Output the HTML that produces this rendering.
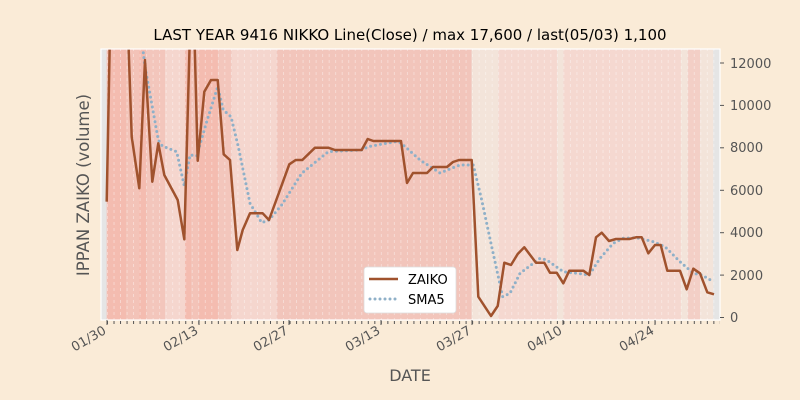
<!DOCTYPE html>
<html><head><meta charset="utf-8"><style>
html,body{margin:0;padding:0;background:#faebd7;}
svg{display:block;font-family:"DejaVu Sans","Liberation Sans",sans-serif;}
</style></head><body>
<svg width="800" height="400" viewBox="0 0 800 400" xmlns="http://www.w3.org/2000/svg">
<defs>
<pattern id="g" x="107" y="0" width="6.52" height="6" patternUnits="userSpaceOnUse">
<line x1="0.5" y1="0" x2="0.5" y2="3" stroke="#ffffff" stroke-opacity="0.45" stroke-width="0.8"/>
</pattern>
<clipPath id="c"><rect x="101" y="49" width="619" height="271"/></clipPath>
</defs>
<rect width="800" height="400" fill="#faebd7"/>
<text x="410" y="40" font-size="15" text-anchor="middle" fill="#000">LAST YEAR 9416 NIKKO Line(Close) / max 17,600 / last(05/03) 1,100</text>
<g>
<rect x="101" y="49" width="619" height="271" fill="#e5e5e5"/>
<rect x="106.7" y="49" width="20" height="271" fill="#f4bcb0"/>
<rect x="126.7" y="49" width="12.3" height="271" fill="#f3c3b8"/>
<rect x="139" y="49" width="7.7" height="271" fill="#f4bcb0"/>
<rect x="146.7" y="49" width="18.3" height="271" fill="#f3c6bc"/>
<rect x="165" y="49" width="20" height="271" fill="#f5d6ce"/>
<rect x="185" y="49" width="6.7" height="271" fill="#f4bcb0"/>
<rect x="191.7" y="49" width="6.6" height="271" fill="#f3c3b8"/>
<rect x="198.3" y="49" width="20" height="271" fill="#f4bcb0"/>
<rect x="218.3" y="49" width="13.4" height="271" fill="#f3c6bc"/>
<rect x="231.7" y="49" width="45" height="271" fill="#f5d6ce"/>
<rect x="276.7" y="49" width="195" height="271" fill="#f2c5bb"/>
<rect x="471.7" y="49" width="26.6" height="271" fill="#f3e4da"/>
<rect x="498.3" y="49" width="59" height="271" fill="#f5d8d0"/>
<rect x="557.3" y="49" width="6" height="271" fill="#f3e4da"/>
<rect x="563.3" y="49" width="117.7" height="271" fill="#f5d8d0"/>
<rect x="681" y="49" width="6.7" height="271" fill="#f3e4da"/>
<rect x="687.7" y="49" width="12.3" height="271" fill="#f3cfc6"/>
<rect x="700" y="49" width="13.3" height="271" fill="#f3e4da"/>
<rect x="713.3" y="49" width="6.7" height="271" fill="#e5e5e5"/>
<rect x="101" y="49" width="619" height="271" fill="url(#g)"/>
</g>
<g clip-path="url(#c)">
<polyline fill="none" stroke="#8fb0c8" stroke-width="3" stroke-dasharray="0,5" stroke-linecap="round" points="143.3,52.7 145,66.7 158.3,140 162.3,146 176.7,151.7 184.3,186 190,155 196.7,156 206.7,121.7 217.7,86.7 223.3,110 231,116.7 238.3,146.7 250,203.3 261.7,222.7 269,220 281.7,205 301.7,173.3 328.3,151.7 361.7,150 368.3,146.7 395,141.7 401,143 420,160 440,173 460,165 473.3,165 481.7,200 491.7,246.7 502.7,296.7 510,293.3 520,273.3 540,258.3 546.7,260 563.3,271.7 576.7,273.3 589.3,275 600,258.3 613.3,243.3 623.3,238.3 636.7,237.7 653.3,241.7 665,246.7 680,261.7 693.3,273.3 701.7,275 713.3,281.7"/>
<polyline fill="none" stroke="#a0522d" stroke-width="2.5" stroke-linejoin="round" points="106.7,201.7 110,30 128,30 131.7,136.7 139.3,188.3 145,60 152.3,181.7 158.3,143.3 164.3,175 177.7,200 184.3,239.3 190,30 194.3,30 197.7,160.7 204.3,91.7 211,80 217.7,80 223.7,154.3 230,160 237.3,250 242.7,230 250,213.3 262.7,213.3 269,220 289.3,164.3 295.7,160 302.3,160 315,147.7 328.3,147.7 335,150 361.7,150 367.7,139 373.3,141 395,141 401,141 407,183 413,173 427,173 433,167 447,167 453,162 459,160 471.7,160 478.3,296.7 491,316 497.7,306 504.3,262.7 511,265 517.7,254 524.3,247.3 536,262.7 544.3,262.7 550,272.7 556.7,272.7 563.3,283.3 569.3,270.7 583.3,270.7 589.3,275 596,237.3 601.7,232.7 609,241 616,239 629.3,239 636,237.3 641.7,237.3 648.3,253.3 655,245 660.7,245 667.3,270.7 680,270.7 686.7,289.3 693.3,268.7 700,273.3 707.3,292.3 714,294.3"/>
</g>
<rect x="101" y="49" width="619" height="271" fill="none" stroke="#fff" stroke-width="1.2"/>
<g fill="#555" font-size="13" stroke="#555">
<g stroke-width="1">
<line x1="720" y1="317.5" x2="724" y2="317.5"/><line x1="720" y1="275.1" x2="724" y2="275.1"/><line x1="720" y1="232.7" x2="724" y2="232.7"/><line x1="720" y1="190.3" x2="724" y2="190.3"/><line x1="720" y1="147.8" x2="724" y2="147.8"/><line x1="720" y1="105.4" x2="724" y2="105.4"/><line x1="720" y1="63" x2="724" y2="63"/>
</g>
<g stroke="none">
<text x="730" y="322">0</text><text x="730" y="280">2000</text><text x="730" y="237">4000</text><text x="730" y="195">6000</text><text x="730" y="152">8000</text><text x="730" y="110">10000</text><text x="730" y="68">12000</text>
</g>
</g>
<g stroke="#555" stroke-width="1">
<line x1="107" y1="320" x2="107" y2="325"/><line x1="199" y1="320" x2="199" y2="325"/><line x1="289" y1="320" x2="289" y2="325"/><line x1="381" y1="320" x2="381" y2="325"/><line x1="472" y1="320" x2="472" y2="325"/><line x1="563" y1="320" x2="563" y2="325"/><line x1="655" y1="320" x2="655" y2="325"/>
</g>
<line x1="107" y1="322.5" x2="720" y2="322.5" stroke="#555" stroke-width="3" stroke-dasharray="1,5.52"/>
<g fill="#555" font-size="13" text-anchor="end">
<text transform="translate(107,333) rotate(-30)">01/30</text>
<text transform="translate(199,333) rotate(-30)">02/13</text>
<text transform="translate(289,333) rotate(-30)">02/27</text>
<text transform="translate(381,333) rotate(-30)">03/13</text>
<text transform="translate(472,333) rotate(-30)">03/27</text>
<text transform="translate(563,333) rotate(-30)">04/10</text>
<text transform="translate(655,333) rotate(-30)">04/24</text>
</g>
<text x="410" y="381" font-size="16" fill="#555" text-anchor="middle">DATE</text>
<text transform="translate(89,185) rotate(-90)" font-size="16.5" fill="#555" text-anchor="middle">IPPAN ZAIKO (volume)</text>
<rect x="364" y="267" width="92" height="46" rx="3" fill="#fff" stroke="#ddd" stroke-width="0.8"/>
<line x1="369" y1="279" x2="398" y2="279" stroke="#a0522d" stroke-width="2.5"/>
<line x1="370" y1="299" x2="398" y2="299" stroke="#8fb0c8" stroke-width="3" stroke-dasharray="0,5" stroke-linecap="round"/>
<text x="408" y="284" font-size="13" fill="#000">ZAIKO</text>
<text x="408" y="304" font-size="13" fill="#000">SMA5</text>
</svg>
</body></html>
